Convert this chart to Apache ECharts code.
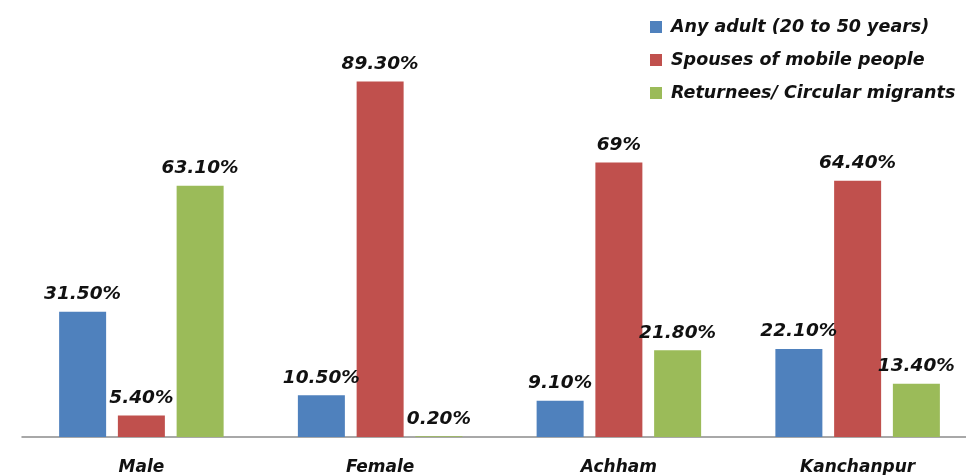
<!DOCTYPE html>
<html>
<head>
<meta charset="utf-8">
<script src="https://cdn.jsdelivr.net/npm/echarts@6/dist/echarts.min.js"></script>
<style>html,body{margin:0;padding:0;background:#fff}#c{width:966px;height:475px}</style>
</head>
<body>
<div id="c"></div>
<script>
const categories = ['Male', 'Female', 'Achham', 'Kanchanpur'];
const seriesNames = ['Any adult (20 to 50 years)', 'Spouses of mobile people', 'Returnees/ Circular migrants'];
const anyAdult = [31.5, 10.5, 9.1, 22.1];
const spouses = [5.4, 89.3, 69, 64.4];
const returnees = [63.1, 0.2, 21.8, 13.4];
const labelsAny = ['31.50%', '10.50%', '9.10%', '22.10%'];
const labelsSpouses = ['5.40%', '89.30%', '69%', '64.40%'];
const labelsReturnees = ['63.10%', '0.20%', '21.80%', '13.40%'];
const colors = ['#4F81BD', '#C0504D', '#9BBB59'];

const chart = echarts.init(document.getElementById('c'), null, {renderer: 'canvas'});
const font = '"DejaVu Sans", sans-serif';
function mk(name, data, labels, color) {
  return {
    name: name, type: 'bar', data: data, barWidth: 47, barGap: '25%',
    itemStyle: {color: color},
    label: {
      show: true, position: 'top', distance: 8,
      formatter: p => labels[p.dataIndex],
      fontFamily: font, fontSize: 18.5, fontWeight: 'bold', fontStyle: 'italic', color: '#111'
    }
  };
}
chart.setOption({
  animation: false,
  backgroundColor: '#fff',
  legend: {
    orient: 'vertical', left: 645, top: 13, itemWidth: 12, itemHeight: 12, itemGap: 15,
    icon: 'rect',
    textStyle: {fontFamily: font, fontSize: 17.5, fontWeight: 'bold', fontStyle: 'italic', color: '#111', lineHeight: 18, padding: [0, 0, 0, 4]},
    data: seriesNames
  },
  grid: {left: 22, top: 39, width: 955, bottom: 38, containLabel: false, outerBoundsMode: 'none'},
  xAxis: {
    type: 'category', data: categories,
    axisLine: {lineStyle: {color: '#8c8c8c', width: 1.5}},
    axisTick: {show: false},
    axisLabel: {margin: 22, fontFamily: font, fontSize: 17, fontWeight: 'bold', fontStyle: 'italic', color: '#111'}
  },
  yAxis: {type: 'value', min: 0, max: 100, show: false, splitLine: {show: false}},
  series: [
    mk(seriesNames[0], anyAdult, labelsAny, colors[0]),
    mk(seriesNames[1], spouses, labelsSpouses, colors[1]),
    mk(seriesNames[2], returnees, labelsReturnees, colors[2])
  ]
});
</script>
</body>
</html>
